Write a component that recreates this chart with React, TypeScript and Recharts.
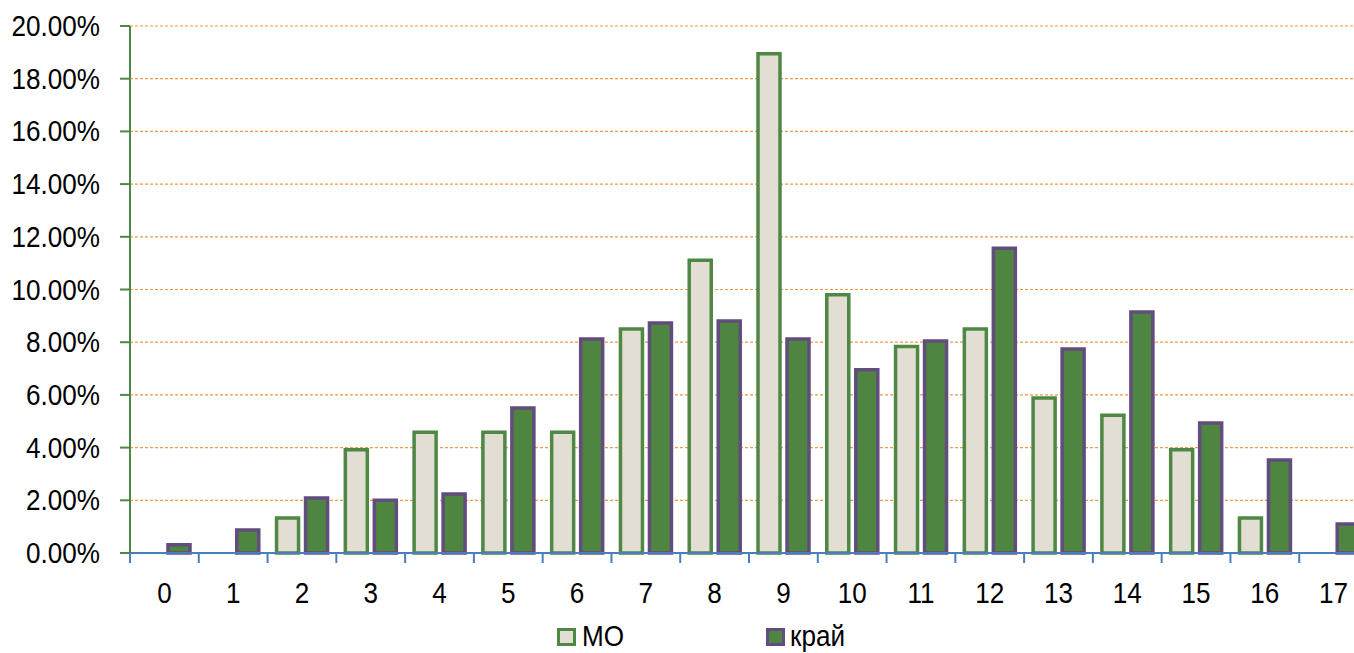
import React from 'react';
import { BarChart, Bar, XAxis, YAxis, CartesianGrid, Legend } from 'recharts';

const categories = ['0', '1', '2', '3', '4', '5', '6', '7', '8', '9', '10', '11', '12', '13', '14', '15', '16', '17'];
const moValues: (number | null)[] = [null, null, 1.33, 3.92, 4.58, 4.58, 4.58, 8.5, 11.11, 18.95, 9.8, 7.84, 8.5, 5.88, 5.23, 3.92, 1.33, null];
const kraiValues: number[] = [0.31, 0.87, 2.09, 2.0, 2.24, 5.5, 8.12, 8.73, 8.8, 8.12, 6.95, 8.05, 11.57, 7.74, 9.15, 4.93, 3.53, 1.1];
const yTicks = [0, 2, 4, 6, 8, 10, 12, 14, 16, 18, 20];
const seriesNames = ['МО', 'край'];

const data = categories.map((c, i) => ({ cat: c, mo: moValues[i], krai: kraiValues[i] }));

const FONT = "'Liberation Sans', Arial, sans-serif";
const NARROW = 0.9;
const CHART_W = 1400;
const PLOT_LEFT = 130;
const PLOT_W = 1238;
const BAND = PLOT_W / categories.length;

const MO_FILL = '#E3DED3';
const MO_STROKE = '#4F8744';
const KR_FILL = '#4D8541';
const KR_STROKE = '#634C7E';

const XTick = (props: any) => {
  const { x, y, payload } = props;
  return (
    <g>
      <line x1={x - BAND / 2} x2={x - BAND / 2} y1={y} y2={y + 10} stroke="#4A7EBB" strokeWidth={2} />
      <text
        transform={`translate(${x},${y + 50}) scale(${NARROW},1)`}
        textAnchor="middle"
        fontFamily={FONT}
        fontSize={29}
        fill="#000"
      >
        {payload.value}
      </text>
    </g>
  );
};

const YTick = (props: any) => {
  const { x, y, payload } = props;
  return (
    <text
      transform={`translate(${x},${y + 10}) scale(${NARROW},1)`}
      textAnchor="end"
      fontFamily={FONT}
      fontSize={29}
      fill="#000"
    >
      {`${Number(payload.value).toFixed(2)}%`}
    </text>
  );
};

const narrowText: React.CSSProperties = {
  position: 'absolute',
  top: 8,
  lineHeight: '30px',
  color: '#000',
  transform: `scaleX(${NARROW})`,
  transformOrigin: 'left center',
  whiteSpace: 'nowrap',
};

const LegendContent = () => (
  <div style={{ position: 'relative', width: CHART_W, height: 30, fontFamily: FONT, fontSize: 29 }}>
    <div style={{ position: 'absolute', left: 557, top: 15, width: 13, height: 12, background: MO_FILL, border: `3px solid ${MO_STROKE}` }} />
    <div style={{ ...narrowText, left: 582 }}>{seriesNames[0]}</div>
    <div style={{ position: 'absolute', left: 766, top: 15, width: 13, height: 12, background: KR_FILL, border: `3px solid ${KR_STROKE}` }} />
    <div style={{ ...narrowText, left: 790 }}>{seriesNames[1]}</div>
  </div>
);

export default function App() {
  return (
    <div style={{ position: 'absolute', left: 0, top: 0, width: 1354, height: 653, overflow: 'hidden', background: '#fff' }}>
      <BarChart
        width={CHART_W}
        height={653}
        data={data}
        margin={{ top: 26, right: CHART_W - PLOT_LEFT - PLOT_W, bottom: 10, left: 0 }}
        barGap={7}
        barSize={22}
      >
        <CartesianGrid vertical={false} stroke="#F79646" strokeDasharray="3 2" strokeWidth={1.2} />
        <XAxis
          dataKey="cat"
          height={60}
          tickLine={false}
          tickSize={0}
          tickMargin={0}
          axisLine={{ stroke: '#4A7EBB', strokeWidth: 2 }}
          tick={<XTick />}
          interval={0}
        />
        <YAxis
          width={PLOT_LEFT}
          domain={[0, 20]}
          ticks={yTicks}
          interval={0}
          axisLine={{ stroke: MO_STROKE, strokeWidth: 2 }}
          tickLine={{ stroke: MO_STROKE, strokeWidth: 2 }}
          tickSize={10}
          tickMargin={20}
          tick={<YTick />}
        />
        <Legend verticalAlign="bottom" height={30} wrapperStyle={{ left: 0, width: CHART_W }} content={<LegendContent />} />
        <Bar dataKey="mo" name={seriesNames[0]} fill={MO_FILL} stroke={MO_STROKE} strokeWidth={3.5} isAnimationActive={false} />
        <Bar dataKey="krai" name={seriesNames[1]} fill={KR_FILL} stroke={KR_STROKE} strokeWidth={3.5} isAnimationActive={false} />
      </BarChart>
    </div>
  );
}
